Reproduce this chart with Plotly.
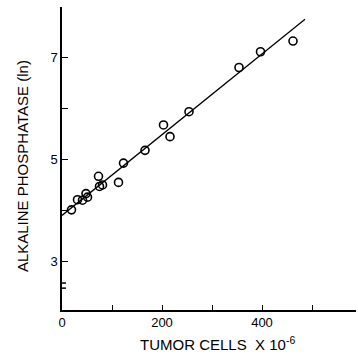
import plotly.graph_objects as go

# Data
tumor_cells = [19, 31, 41, 48, 51, 73, 75, 81, 113, 123, 166, 203, 216, 254, 354, 397, 462]
alk_phos = [4.01, 4.21, 4.20, 4.33, 4.26, 4.67, 4.47, 4.50, 4.55, 4.93, 5.18, 5.68, 5.45, 5.94, 6.81, 7.12, 7.33]

fit_intercept = 3.90
fit_slope = 0.00794
fit_x = [0, 486]
fit_y = [fit_intercept + fit_slope * v for v in fit_x]

y_tickvals = [3, 4, 5, 6, 7, 8]
y_ticktext = ["3", "", "5", "", "7", ""]
x_tickvals = [0, 100, 200, 300, 400, 500]
x_ticktext = ["0", "", "200", "", "400", ""]

fig = go.Figure()
fig.add_trace(go.Scatter(x=fit_x, y=fit_y, mode="lines",
                         line=dict(color="black", width=1.3), hoverinfo="skip"))
fig.add_trace(go.Scatter(x=tumor_cells, y=alk_phos, mode="markers",
                         marker=dict(symbol="circle-open", size=8, color="black",
                                     line=dict(width=1.6, color="black"))))

font = dict(family="Liberation Sans, Arial, sans-serif", size=13, color="black")

fig.update_layout(
    width=358, height=355,
    margin=dict(l=62, r=2, t=7, b=45),
    paper_bgcolor="white", plot_bgcolor="white",
    showlegend=False, font=font,
    xaxis=dict(range=[0, 588], showgrid=False, zeroline=False, showline=True,
               linecolor="black", linewidth=1.5, ticks="inside", ticklen=5,
               tickwidth=1.3, tickcolor="black", tickvals=x_tickvals,
               ticktext=x_ticktext, tickfont=dict(size=13)),
    yaxis=dict(range=[2.04, 8.0], showgrid=False, zeroline=False, showline=True,
               linecolor="black", linewidth=1.5, ticks="inside", ticklen=6,
               tickwidth=1.3, tickcolor="black", tickvals=y_tickvals,
               ticktext=y_ticktext, tickfont=dict(size=13)),
    annotations=[
        dict(text="ALKALINE PHOSPHATASE (ln)", xref="paper", yref="paper",
             x=-0.136, y=0.475, textangle=-90, showarrow=False,
             xanchor="center", yanchor="middle", font=dict(size=15)),
        dict(text="TUMOR CELLS  X 10<sup>-6</sup>", xref="paper", yref="paper",
             x=0.53, y=-0.112, showarrow=False, xanchor="center", yanchor="middle",
             font=dict(size=15)),
    ],
    shapes=[
        dict(type="rect", xref="x", yref="y", x0=-6, x1=6, y0=2.47, y1=2.57,
             fillcolor="white", line=dict(width=0), layer="above"),
        dict(type="line", xref="x", yref="y", x0=-10, x1=8, y0=2.57, y1=2.57,
             line=dict(color="black", width=1.5), layer="above"),
        dict(type="line", xref="x", yref="y", x0=-10, x1=8, y0=2.47, y1=2.47,
             line=dict(color="black", width=1.5), layer="above"),
    ],
)

fig.write_html("out.html")
